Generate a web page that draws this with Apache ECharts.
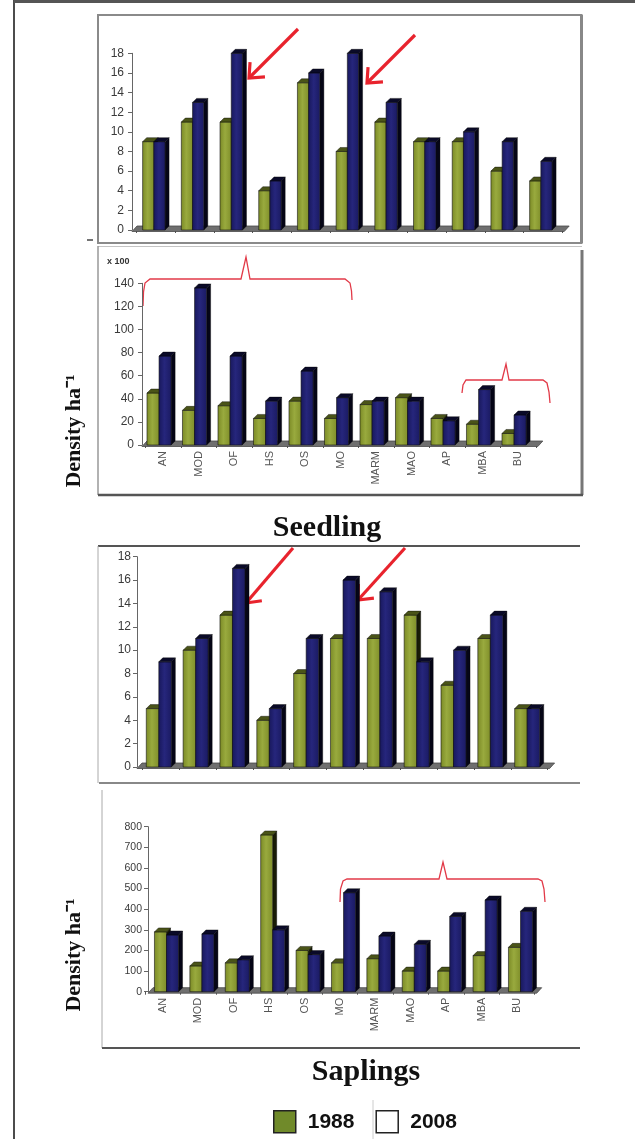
<!DOCTYPE html>
<html>
<head>
<meta charset="utf-8">
<title>Seedling and sapling density, 1988 vs 2008</title>
<script src="https://cdn.jsdelivr.net/npm/echarts@6/dist/echarts.min.js"></script>
<style>
  html, body { margin: 0; padding: 0; background: #fff; }
  #chart { width: 635px; height: 1139px; }
</style>
</head>
<body>
<div id="chart"></div>
<script>
// Species codes along the x axis
const categories = ['AN', 'MOD', 'OF', 'HS', 'OS', 'MO', 'MARM', 'MAO', 'AP', 'MBA', 'BU'];
const years = ['1988', '2008'];

// Seedlings, first panel (count scale 0-18)
const seedlingTop1988 = [9, 11, 11, 4, 15, 8, 11, 9, 9, 6, 5];
const seedlingTop2008 = [9, 13, 18, 5, 16, 18, 13, 9, 10, 9, 7];
// Seedlings, density ha-1 (x 100)
const seedlingDensity1988 = [45, 30, 34, 23, 38, 23, 35, 41, 23, 18, 10];
const seedlingDensity2008 = [77, 136, 77, 38, 64, 41, 38, 38, 21, 48, 26];
// Saplings, first panel (count scale 0-18)
const saplingTop1988 = [5, 10, 13, 4, 8, 11, 11, 13, 7, 11, 5];
const saplingTop2008 = [9, 11, 17, 5, 11, 16, 15, 9, 10, 13, 5];
// Saplings, density ha-1
const saplingDensity1988 = [290, 125, 140, 760, 200, 140, 160, 100, 100, 175, 215];
const saplingDensity2008 = [275, 280, 155, 300, 180, 480, 270, 230, 365, 445, 390];

// Axis ranges
const yMax = [18, 140, 18, 800];
const yStep = [2, 20, 2, 100];

const panelData = [
  [seedlingTop1988, seedlingTop2008],
  [seedlingDensity1988, seedlingDensity2008],
  [saplingTop1988, saplingTop2008],
  [saplingDensity1988, saplingDensity2008]
];

// Layout of the four plot areas
const layout = [
  { left: 136.5, top: 53.3, width: 425.7, height: 176.7, ratio: 0.29, shift: 0, offset: 4.5, labels: false, yFont: 12, yMargin: 8 },
  { left: 145.3, top: 283.3, width: 390.5, height: 161.7, ratio: 0.34, shift: -2, offset: 3.3, labels: true, yFont: 12, yMargin: 8 },
  { left: 142.4, top: 556.7, width: 405.2, height: 210.3, ratio: 0.34, shift: 0, offset: 5.4, labels: false, yFont: 12, yMargin: 6 },
  { left: 145.3, top: 826.7, width: 389.4, height: 165.0, ratio: 0.34, shift: 5.5, offset: -2.7, labels: true, yFont: 10.5, yMargin: 6 }
];

const DX = 4;   // depth offset of the pseudo-3D columns
const DY = 4;

function gradient(stops) {
  return { type: 'linear', x: 0, y: 0, x2: 1, y2: 0, colorStops: stops };
}
const faceFill = [
  gradient([{ offset: 0, color: '#7b8a26' }, { offset: 0.45, color: '#99aa3e' }, { offset: 1, color: '#7f8e2a' }]),
  gradient([{ offset: 0, color: '#18185c' }, { offset: 0.45, color: '#26267c' }, { offset: 1, color: '#1a1a62' }])
];
const topFill = ['#4a5418', '#0a0a28'];
const sideFill = ['#181b06', '#050516'];
const seriesColor = ['#8b9b35', '#1f1f6e'];

function barRenderer(p, yi) {
  return function (params, api) {
    const i = api.value(0);
    const v = api.value(1);
    const top = api.coord([i, v]);
    const base = api.coord([i, 0]);
    const band = api.size([1, 0])[0];
    const w = band * p.ratio;
    const groupW = 2 * w + DX;
    const xl = top[0] + p.shift - groupW / 2 + yi * w;
    const xr = xl + w;
    const y1 = top[1];
    const y0 = base[1];
    return {
      type: 'group',
      children: [
        { type: 'polygon', shape: { points: [[xr, y0], [xr, y1], [xr + DX, y1 - DY], [xr + DX, y0 - DY]] },
          style: { fill: sideFill[yi], stroke: '#000', lineWidth: 0.4 } },
        { type: 'rect', shape: { x: xl, y: y1, width: w, height: y0 - y1 },
          style: { fill: faceFill[yi], stroke: '#141414', lineWidth: 0.6 } },
        { type: 'polygon', shape: { points: [[xl, y1], [xr, y1], [xr + DX, y1 - DY], [xl + DX, y1 - DY]] },
          style: { fill: topFill[yi], stroke: '#000', lineWidth: 0.4 } }
      ]
    };
  };
}

function floorRenderer(p) {
  return function (params, api) {
    const band = api.size([1, 0])[0];
    const first = api.coord([0, 0]);
    const last = api.coord([categories.length - 1, 0]);
    const xa = first[0] - band / 2 - p.offset;
    const xb = last[0] + band / 2 + 2;
    const y0 = first[1];
    return {
      type: 'polygon',
      shape: { points: [[xa, y0 + 1.5], [xb, y0 + 1.5], [xb + DX + 1, y0 - DY], [xa + DX + 1, y0 - DY]] },
      style: { fill: '#6f6f6f', stroke: '#4a4a4a', lineWidth: 0.8 }
    };
  };
}

const grids = [], xAxes = [], yAxes = [], series = [];
layout.forEach(function (p, k) {
  grids.push({ left: p.left, top: p.top, width: p.width, height: p.height, containLabel: false });
  xAxes.push({
    type: 'category', gridIndex: k, data: categories,
    axisLine: { show: false },
    axisTick: { show: true, length: 3, lineStyle: { color: '#555' } },
    axisLabel: { show: p.labels, rotate: 90, margin: 6, fontSize: 11, color: '#555', fontFamily: 'Liberation Sans' }
  });
  yAxes.push({
    type: 'value', gridIndex: k, min: 0, max: yMax[k], interval: yStep[k], offset: p.offset,
    axisLine: { show: true, lineStyle: { color: '#666', width: 1 } },
    axisTick: { show: true, length: 4, lineStyle: { color: '#666' } },
    splitLine: { show: false },
    axisLabel: { fontSize: p.yFont, color: '#3a3a3a', margin: p.yMargin, fontFamily: 'Liberation Sans' }
  });
  series.push({
    type: 'custom', name: 'floor' + k, xAxisIndex: k, yAxisIndex: k, silent: true,
    renderItem: floorRenderer(p), data: [[0, 0]], z: 1
  });
  panelData[k].forEach(function (vals, yi) {
    series.push({
      type: 'custom', name: years[yi], xAxisIndex: k, yAxisIndex: k,
      itemStyle: { color: seriesColor[yi] },
      renderItem: barRenderer(p, yi),
      data: vals.map(function (v, i) { return [i, v]; }),
      z: 2 + yi
    });
  });
});

// Frame lines, arrows, braces and titles
const RED = '#e8232d';
function line(x1, y1, x2, y2, color, width) {
  return { type: 'line', shape: { x1: x1, y1: y1, x2: x2, y2: y2 }, style: { stroke: color, lineWidth: width }, silent: true };
}
function arrow(tx, ty, hx, hy) {
  const ang = Math.atan2(ty - hy, tx - hx);
  const len = 16, spread = 0.72;
  return [
    line(tx, ty, hx, hy, RED, 3.2),
    { type: 'polyline', silent: true,
      shape: { points: [
        [hx + len * Math.cos(ang + spread), hy + len * Math.sin(ang + spread)],
        [hx, hy],
        [hx + len * Math.cos(ang - spread), hy + len * Math.sin(ang - spread)]
      ] },
      style: { stroke: RED, lineWidth: 3.2, fill: null, lineJoin: 'miter' } }
  ];
}
function brace(points) {
  return { type: 'polyline', silent: true, shape: { points: points }, style: { stroke: '#e23a48', lineWidth: 1.3, fill: null } };
}
const serif = '"Liberation Serif", "Times New Roman", serif';

const graphics = [
  line(14, 0, 14, 1139, '#111', 1.5),
  line(14, 1.5, 635, 1.5, '#555', 3),
  // first seedling box
  { type: 'rect', silent: true, shape: { x: 98, y: 15, width: 483.5, height: 228 }, style: { fill: null, stroke: '#8a8a8a', lineWidth: 2 } },
  line(581.5, 15, 581.5, 243, '#888', 3),
  line(87, 240, 93, 240, '#444', 1.5),
  // second seedling box
  line(98, 246.5, 582, 246.5, '#c4c4c4', 1),
  line(98, 246, 98, 495, '#999', 1.5),
  line(582, 250, 582, 495, '#777', 3),
  line(98, 495, 583, 495, '#555', 2.5),
  // first sapling box
  line(98, 546, 580, 546, '#555', 2),
  line(98, 546, 98, 783, '#aaa', 1),
  line(99, 783, 580, 783, '#888', 2),
  // second sapling box
  line(102, 790, 102, 1048, '#aaa', 1),
  line(102, 1048, 580, 1048, '#555', 2),
  line(373, 1100, 373, 1139, '#ccc', 1),
  { type: 'text', silent: true, x: 107, y: 262,
    style: { text: 'x 100', font: 'bold 9px "Liberation Sans", sans-serif', fill: '#333', textAlign: 'left', textVerticalAlign: 'middle' } },
  brace([[143, 306], [143.5, 292], [145, 283], [150, 279], [241, 279], [246, 257], [250, 279], [345, 279], [350, 283], [351.5, 291], [352, 300]]),
  brace([[462, 393], [463, 385], [466, 380], [502, 380], [506, 364], [509, 380], [543, 380], [547, 383], [549, 392], [550, 403]]),
  brace([[340, 902], [340.5, 889], [343, 881], [347, 879], [439, 879], [443, 862], [447, 879], [538, 879], [542, 881], [544, 889], [545, 902]]),
  { type: 'text', silent: true, x: 327, y: 528,
    style: { text: 'Seedling', font: 'bold 30px ' + serif, fill: '#111', textAlign: 'center', textVerticalAlign: 'middle' } },
  { type: 'text', silent: true, x: 366, y: 1072,
    style: { text: 'Saplings', font: 'bold 30px ' + serif, fill: '#111', textAlign: 'center', textVerticalAlign: 'middle' } },
  { type: 'text', silent: true, x: 74, y: 431, rotation: Math.PI / 2,
    style: { text: 'Density ha\u207B\u00B9', font: 'bold 22px ' + serif, fill: '#111', textAlign: 'center', textVerticalAlign: 'middle' } },
  { type: 'text', silent: true, x: 74, y: 955, rotation: Math.PI / 2,
    style: { text: 'Density ha\u207B\u00B9', font: 'bold 22px ' + serif, fill: '#111', textAlign: 'center', textVerticalAlign: 'middle' } }
].concat(
  arrow(298, 29, 249, 78),
  arrow(415, 35, 367, 83),
  arrow(293, 548, 246, 603),
  arrow(405, 548, 358, 600)
);

const chart = echarts.init(document.getElementById('chart'), null, { renderer: 'canvas' });
chart.setOption({
  animation: false,
  backgroundColor: '#fff',
  grid: grids,
  xAxis: xAxes,
  yAxis: yAxes,
  legend: {
    left: 273, top: 1110, padding: 0, itemWidth: 22, itemHeight: 22, itemGap: 21, icon: 'rect', selectedMode: false,
    textStyle: { fontSize: 21, fontWeight: 'bold', fontFamily: 'Liberation Sans', color: '#111', padding: [0, 0, 0, 7] },
    data: [
      { name: '1988', itemStyle: { color: '#708a2a', borderColor: '#222', borderWidth: 1.5 } },
      { name: '2008', itemStyle: { color: '#ffffff', borderColor: '#222', borderWidth: 1.5 } }
    ]
  },
  series: series,
  graphic: graphics
});
</script>
</body>
</html>
